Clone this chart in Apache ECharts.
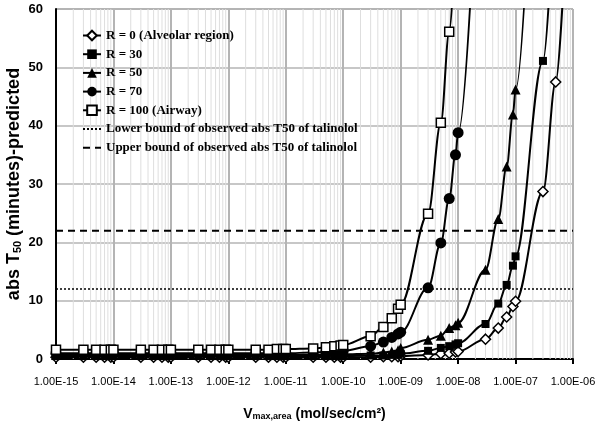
<!DOCTYPE html>
<html>
<head>
<meta charset="utf-8">
<script src="https://cdn.jsdelivr.net/npm/echarts@6/dist/echarts.min.js"></script>
<style>
html,body{margin:0;padding:0;background:#fff;}
#chart{width:602px;height:422px;}
</style>
</head>
<body>
<div id="chart"></div>
<script>
// x values (mol/sec/cm2)
var xValues = [
  1e-15,3e-15,5e-15,7e-15,9e-15,
  1e-14,3e-14,5e-14,7e-14,9e-14,
  1e-13,3e-13,5e-13,7e-13,9e-13,
  1e-12,3e-12,5e-12,7e-12,9e-12,
  1e-11,3e-11,5e-11,7e-11,9e-11,
  1e-10,3e-10,5e-10,7e-10,9e-10,
  1e-9,3e-9,5e-9,7e-9,9e-9,
  1e-8,3e-8,5e-8,7e-8,9e-8,
  1e-7,3e-7,5e-7,7e-7,9e-7
];
var r0 = [
  0.3,0.3,0.3,0.3,0.3, 0.3,0.3,0.3,0.3,0.3, 0.3,0.3,0.3,0.3,0.3,
  0.3,0.3,0.3,0.3,0.3, 0.3,0.3,0.3,0.3,0.3,
  0.3,0.3,0.4,0.4,0.4,
  0.5,0.7,0.9,1.0,1.2,
  1.3,3.4,5.3,7.2,9.0,
  9.9,28.7,47.5,66,null
];
var r30 = [
  0.5,0.5,0.5,0.5,0.5, 0.5,0.5,0.5,0.5,0.5, 0.5,0.5,0.5,0.5,0.5,
  0.5,0.5,0.5,0.5,0.5, 0.5,0.5,0.5,0.5,0.5,
  0.5,0.6,0.6,0.7,0.7,
  0.9,1.4,1.9,2.2,2.5,
  2.7,6.0,9.5,12.7,16.0,
  17.6,51.1,85,null,null
];
var r50 = [
  0.7,0.7,0.7,0.7,0.7, 0.7,0.7,0.7,0.7,0.7, 0.7,0.7,0.7,0.7,0.7,
  0.7,0.7,0.7,0.7,0.7, 0.7,0.7,0.8,0.8,0.8,
  0.8,0.9,1.1,1.3,1.5,
  1.9,3.3,4.0,5.3,5.8,
  6.2,15.3,24.0,33.0,41.9,
  46.2,135,null,null,null
];
var r70 = [
  1.0,1.0,1.0,1.0,1.0, 1.0,1.0,1.0,1.0,1.0, 1.0,1.0,1.0,1.0,1.0,
  1.0,1.0,1.0,1.0,1.0, 1.0,1.1,1.2,1.2,1.3,
  1.4,2.2,2.9,3.7,4.3,
  4.6,12.2,19.9,27.5,35.0,
  38.8,116,null,null,null,
  null,null,null,null,null
];
var r100 = [
  1.6,1.6,1.6,1.6,1.6, 1.6,1.6,1.6,1.6,1.6, 1.6,1.6,1.6,1.6,1.6,
  1.6,1.6,1.6,1.7,1.7, 1.7,1.8,2.0,2.2,2.3,
  2.4,3.9,5.5,7.0,8.6,
  9.3,24.9,40.5,56.1,72,
  null,null,null,null,null,
  null,null,null,null,null
];
var lowerBound = 12;
var upperBound = 22;
var xMin = 1e-15, xMax = 1e-6;
var yMin = 0, yMax = 60;
var minorMantissas = [2,3,4,5,6,7,8,9];
var decadeExponents = [-15,-14,-13,-12,-11,-10,-9,-8,-7];
var seriesNames = ['R = 0 (Alveolar region)','R = 30','R = 50','R = 70','R = 100 (Airway)',
  'Lower bound of observed abs T50 of talinolol','Upper bound of observed abs T50 of talinolol'];

function pairs(vals){
  var out=[];
  for(var i=0;i<xValues.length;i++){ if(vals[i]!==null && vals[i]!==undefined) out.push([xValues[i],vals[i]]); }
  return out;
}
// minor vertical gridlines (2..9 within each decade)
var minorGrid=[];
decadeExponents.forEach(function(e){
  minorMantissas.forEach(function(m){
    var x = Number(m+'e'+e);
    minorGrid.push([x,yMin],[x,yMax],[x,'-']);
  });
});

var serif='"Liberation Serif","Times New Roman",serif';
var sans='"Liberation Sans",Arial,sans-serif';

function curve(name, vals, symbol, size, hollow){
  return {
    name:name, type:'line', data:pairs(vals),
    smooth:0.35, smoothMonotone:'x', clip:true,
    symbol:symbol, symbolSize:size, showAllSymbol:true,
    lineStyle:{color:'#000',width:2},
    itemStyle: hollow ? {color:'#fff',borderColor:'#000',borderWidth:1.5} : {color:'#000',borderColor:'#000',borderWidth:0},
    z:3
  };
}

var chart = echarts.init(document.getElementById('chart'), null, {renderer:'canvas'});
chart.setOption({
  animation:false,
  backgroundColor:'#fff',
  grid:{left:56,right:29,top:9,bottom:63,show:true,borderColor:'#666',borderWidth:1,backgroundColor:'transparent',
        containLabel:false, outerBoundsMode:'none'},
  legend:{
    orient:'vertical', left:77, top:24, itemGap:5.7, itemWidth:18, itemHeight:12,
    textStyle:{fontFamily:serif,fontWeight:'bold',fontSize:13,color:'#000'},
    data:seriesNames
  },
  xAxis:{
    type:'log', logBase:10, min:xMin, max:xMax, interval:1,
    name:'{v|V}{sub|max,area}{v| (mol/sec/cm²)}',
    nameLocation:'middle', nameGap:42, nameMoveOverlap:false,
    nameTextStyle:{
      rich:{
        v:{fontFamily:sans,fontWeight:'bold',fontSize:14,color:'#000',lineHeight:20,verticalAlign:'bottom'},
        sub:{fontFamily:sans,fontWeight:'bold',fontSize:9,color:'#000',lineHeight:14,verticalAlign:'bottom'}
      }
    },
    axisLine:{show:true,lineStyle:{color:'#000',width:2}},
    axisTick:{show:true,length:5,lineStyle:{color:'#000',width:2}},
    axisLabel:{
      margin:17, color:'#000', fontFamily:sans, fontSize:11,
      formatter:function(v){
        var s=v.toExponential(2).toUpperCase();
        return s.replace(/E([+-])(\d)$/,'E$10$2').replace('E+','E');
      }
    },
    splitLine:{show:true,lineStyle:{color:'#b4b4b4',width:2}}
  },
  yAxis:{
    type:'value', min:yMin, max:yMax, interval:10,
    name:'{v|abs T}{sub|50}{v| (minutes)-predicted}',
    nameLocation:'middle', nameGap:33, nameRotate:90, nameMoveOverlap:false,
    nameTextStyle:{
      rich:{
        v:{fontFamily:sans,fontWeight:'bold',fontSize:18,color:'#000',lineHeight:22,verticalAlign:'bottom'},
        sub:{fontFamily:sans,fontWeight:'bold',fontSize:11,color:'#000',lineHeight:16,verticalAlign:'bottom'}
      }
    },
    axisLine:{show:true,lineStyle:{color:'#000',width:2}},
    axisTick:{show:false},
    axisLabel:{margin:13,color:'#000',fontFamily:sans,fontSize:13,fontWeight:'bold'},
    splitLine:{show:true,lineStyle:{color:'#b4b4b4',width:1.5}}
  },
  series:[
    {
      name:'minor grid', type:'line', data:minorGrid, symbol:'none', silent:true,
      connectNulls:false, lineStyle:{color:'#dedede',width:1}, z:0
    },
    curve(seriesNames[0], r0, 'diamond', 10, true),
    curve(seriesNames[1], r30, 'rect', 8, false),
    curve(seriesNames[2], r50, 'triangle', 10, false),
    curve(seriesNames[3], r70, 'circle', 11, false),
    curve(seriesNames[4], r100, 'rect', 9, true),
    {
      name:seriesNames[5], type:'line', data:[[xMin,lowerBound],[xMax,lowerBound]],
      symbol:'none', itemStyle:{color:'rgba(0,0,0,0)'},
      lineStyle:{color:'#000',width:1.5,type:[2,2]}, z:2
    },
    {
      name:seriesNames[6], type:'line', data:[[xMin,upperBound],[xMax,upperBound]],
      symbol:'none', itemStyle:{color:'rgba(0,0,0,0)'},
      lineStyle:{color:'#000',width:2,type:[7,5]}, z:2
    }
  ]
});
</script>
</body>
</html>
